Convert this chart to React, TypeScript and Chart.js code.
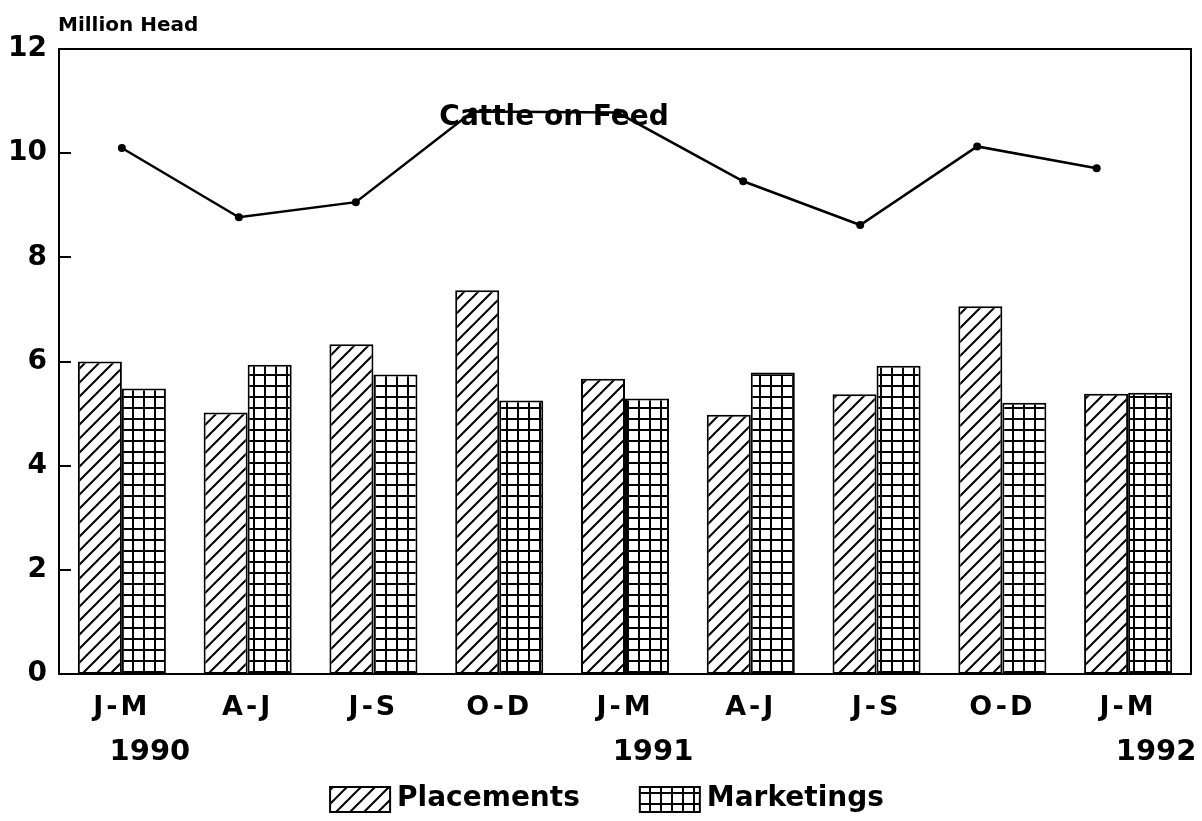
import { useEffect, useRef } from 'react';
import { Chart, registerables } from 'chart.js';

Chart.register(...registerables);

// ---- data ----
const categories = ['J-M', 'A-J', 'J-S', 'O-D', 'J-M', 'A-J', 'J-S', 'O-D', 'J-M'];
const yearLabels = ['1990', '', '', '', '1991', '', '', '', '1992'];
const placements = [6.0, 5.02, 6.33, 7.37, 5.67, 4.98, 5.37, 7.06, 5.38];
const marketings = [5.48, 5.94, 5.75, 5.25, 5.29, 5.79, 5.92, 5.21, 5.4];
const cattleOnFeed = [10.1, 8.77, 9.06, 10.8, 10.78, 9.46, 8.62, 10.13, 9.71];
// observation time of each inventory point, in quarter units from the first quarter
const cattleTimes = [0, 0.93, 1.86, 2.79, 3.94, 4.94, 5.87, 6.8, 7.75];
const yMin = 0;
const yMax = 12;
const yStep = 2;

const FONT = '"DejaVu Sans", "Liberation Sans", Arial, sans-serif';

function makeHatch(ctx: CanvasRenderingContext2D) {
  const s = 14;
  const c = document.createElement('canvas');
  c.width = s;
  c.height = s;
  const g = c.getContext('2d')!;
  g.fillStyle = '#fff';
  g.fillRect(0, 0, s, s);
  g.strokeStyle = '#000';
  g.lineWidth = 2;
  g.beginPath();
  g.moveTo(-s, s * 2);
  g.lineTo(s * 2, -s);
  g.moveTo(-s, s);
  g.lineTo(s, -s);
  g.moveTo(0, s * 2);
  g.lineTo(s * 2, 0);
  g.stroke();
  return ctx.createPattern(c, 'repeat')!;
}

function makeGrid(ctx: CanvasRenderingContext2D) {
  const s = 11;
  const c = document.createElement('canvas');
  c.width = s;
  c.height = s;
  const g = c.getContext('2d')!;
  g.fillStyle = '#fff';
  g.fillRect(0, 0, s, s);
  g.fillStyle = '#000';
  g.fillRect(0, 0, 2, s);
  g.fillRect(0, 0, s, 2);
  return ctx.createPattern(c, 'repeat')!;
}

function spacedLabels(spacing: string) {
  return (s: any) => {
    if (s.__spaced) return;
    s.__spaced = true;
    const orig = s.drawLabels.bind(s);
    s.drawLabels = (area: any) => {
      const prev = s.ctx.letterSpacing;
      s.ctx.letterSpacing = spacing;
      orig(area);
      s.ctx.letterSpacing = prev || '0px';
    };
  };
}

const decorPlugin = {
  id: 'decor',
  afterDatasetsDraw(chart: any) {
    const { ctx, chartArea: a, scales } = chart;
    ctx.save();
    ctx.strokeStyle = '#000';
    ctx.lineWidth = 2;
    ctx.strokeRect(a.left, a.top, a.right - a.left, a.bottom - a.top);
    const y = scales.y;
    ctx.beginPath();
    y.ticks.forEach((t: any) => {
      const py = Math.round(y.getPixelForValue(t.value));
      ctx.moveTo(a.left, py);
      ctx.lineTo(a.left + 12, py);
    });
    ctx.stroke();

    ctx.fillStyle = '#000';
    ctx.textAlign = 'left';
    ctx.textBaseline = 'alphabetic';
    ctx.font = `bold 20px ${FONT}`;
    ctx.fillText('Million Head', a.left - 1, a.top - 18);

    const x = scales.x;
    const cx = (x.getPixelForValue(3) + x.getPixelForValue(4)) / 2 - 8;
    const cy = y.getPixelForValue(cattleOnFeed[3]) + 13;
    ctx.font = `bold 28px ${FONT}`;
    ctx.textAlign = 'center';
    ctx.fillText('Cattle on Feed', cx, cy);

    // legend
    const items = chart.data.datasets.slice(0, 2);
    ctx.font = `bold 28px ${FONT}`;
    const boxW = 60;
    const boxH = 25;
    const gapBoxText = 7;
    const gapItems = 60;
    const widths = items.map((d: any) => ctx.measureText(d.label).width);
    const total = widths.reduce((p: number, w: number) => p + boxW + gapBoxText + w, 0) + gapItems * (items.length - 1);
    let lx = (a.left + a.right) / 2 - 18 - total / 2;
    const ly = 787;
    ctx.textAlign = 'left';
    items.forEach((d: any, i: number) => {
      ctx.fillStyle = d.backgroundColor;
      ctx.fillRect(lx, ly, boxW, boxH);
      ctx.lineWidth = 2;
      ctx.strokeStyle = '#000';
      ctx.strokeRect(lx, ly, boxW, boxH);
      ctx.fillStyle = '#000';
      ctx.fillText(d.label, lx + boxW + gapBoxText, ly + 19);
      lx += boxW + gapBoxText + widths[i] + gapItems;
    });
    ctx.restore();
  },
};

export default function App() {
  const ref = useRef<HTMLCanvasElement>(null);
  useEffect(() => {
    document.body.style.margin = '0';
    const canvas = ref.current!;
    const ctx = canvas.getContext('2d')!;
    const hatch = makeHatch(ctx);
    const grid = makeGrid(ctx);
    Chart.defaults.font.family = FONT;
    Chart.defaults.color = '#000';

    const chart = new Chart(canvas, {
      type: 'bar',
      data: {
        labels: categories,
        datasets: [
          {
            label: 'Placements',
            data: placements.map((v, i) => ({ x: i, y: v })) as any,
            backgroundColor: hatch as any,
            borderColor: '#000',
            borderWidth: 2,
            borderSkipped: false,
            xAxisID: 'x',
            yAxisID: 'y',
            categoryPercentage: 0.7,
            barPercentage: 1.0,
          },
          {
            label: 'Marketings',
            data: marketings.map((v, i) => ({ x: i, y: v })) as any,
            backgroundColor: grid as any,
            borderColor: '#000',
            borderWidth: 2,
            borderSkipped: false,
            xAxisID: 'x',
            yAxisID: 'y',
            categoryPercentage: 0.7,
            barPercentage: 1.0,
          },
          {
            type: 'line',
            label: 'Cattle on Feed',
            data: cattleTimes.map((t, i) => ({ x: t, y: cattleOnFeed[i] })) as any,
            xAxisID: 'x',
            yAxisID: 'y',
            borderColor: '#000',
            backgroundColor: '#000',
            borderWidth: 2.5,
            pointRadius: 4,
            pointBackgroundColor: '#000',
            pointBorderWidth: 0,
            tension: 0,
            fill: false,
          } as any,
        ],
      },
      options: {
        animation: false,
        responsive: false,
        maintainAspectRatio: false,
        layout: { padding: { top: 49, right: 11, left: 0, bottom: 50 } },
        plugins: {
          legend: { display: false },
          tooltip: { enabled: false },
        },
        scales: {
          x: {
            type: 'linear',
            position: 'bottom',
            min: -0.5,
            max: categories.length - 0.5,
            offset: false,
            grid: { display: false, drawTicks: false, offset: false },
            border: { display: false },
            afterBuildTicks: (s: any) => {
              s.ticks = categories.map((_, i) => ({ value: i }));
            },
            ticks: {
              color: '#000',
              font: { size: 27, weight: 'bold' },
              padding: 18,
              autoSkip: false,
              maxRotation: 0,
              callback: (v: any) => categories[v] ?? '',
            },
            afterFit: (s: any) => {
              s.height = 52;
            },
            afterUpdate: spacedLabels('3px'),
          },
          year: {
            type: 'category',
            labels: yearLabels,
            position: 'bottom',
            offset: true,
            grid: { display: false, drawTicks: false, offset: true },
            border: { display: false },
            ticks: {
              color: '#000',
              font: { size: 29, weight: 'bold' },
              padding: 9,
              labelOffset: 28,
              autoSkip: false,
              maxRotation: 0,
            },
            afterFit: (s: any) => {
              s.height = 45;
            },
          },
          y: {
            min: yMin,
            max: yMax,
            grid: { display: false, drawTicks: false },
            border: { display: false },
            ticks: {
              stepSize: yStep,
              color: '#000',
              font: { size: 28, weight: 'bold' },
              padding: 12,
            },
            afterFit: (s: any) => {
              s.width = 59;
            },
          },
        },
      } as any,
      plugins: [decorPlugin as any],
    });
    return () => chart.destroy();
  }, []);
  return (
    <div style={{ width: 1202, height: 821, position: 'relative' }}>
      <canvas ref={ref} width={1202} height={821} style={{ display: 'block' }} />
    </div>
  );
}
